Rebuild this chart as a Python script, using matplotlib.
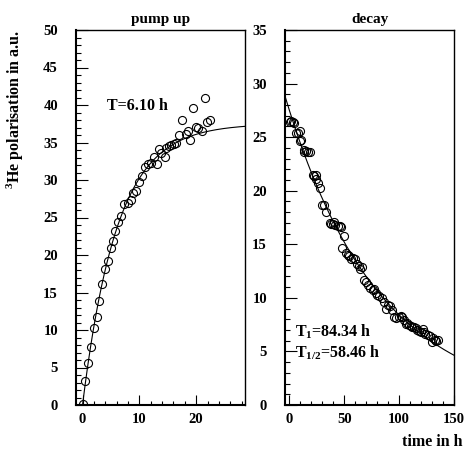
import numpy as np
import matplotlib
matplotlib.use("Agg")
import matplotlib.pyplot as plt
from matplotlib.ticker import MultipleLocator

plt.rcParams['font.family'] = ['Liberation Serif', 'DejaVu Serif']
plt.rcParams['font.weight'] = 'bold'
plt.rcParams['mathtext.fontset'] = 'custom'
plt.rcParams['mathtext.rm'] = 'Liberation Serif:bold'
plt.rcParams['mathtext.it'] = 'Liberation Serif:bold'
plt.rcParams['mathtext.bf'] = 'Liberation Serif:bold'

# pump-up measurements (time in h, polarisation in a.u.)
pump_t = [0.0, 0.45, 1.05, 1.5, 2.0, 2.5, 2.95, 3.45, 4.0, 4.45, 4.95, 5.4,
          5.75, 6.25, 6.8, 7.35, 7.95, 8.45, 8.95, 9.45, 9.95, 10.5, 11.05,
          11.55, 12.0, 12.55, 13.05, 13.5, 13.75, 14.45, 14.7, 15.2, 15.6,
          16.1, 16.5, 16.9, 17.5, 18.2, 18.5, 19.0, 19.5, 20.0, 20.4, 21.0,
          21.5, 21.9, 22.5]
pump_p = [0.2, 3.2, 5.6, 7.7, 10.3, 11.8, 13.9, 16.1, 18.1, 19.2, 21.0, 21.9,
          23.2, 24.4, 25.2, 26.8, 27.0, 27.3, 28.3, 28.6, 29.8, 30.5, 31.8,
          32.1, 32.3, 33.1, 32.1, 34.1, 33.6, 33.1, 34.3, 34.5, 34.7,
          34.8, 35.0, 36.0, 38.0, 36.2, 36.5, 35.3, 39.6, 37.1, 37.0, 36.6,
          41.0, 37.8, 38.0]

# decay measurements (time in h, polarisation in a.u.)
decay_t = [0.45, 1.4, 3.4, 4.4, 5.9, 8.0, 9.5, 10.1, 11.0, 13.1, 13.4, 15.5,
           17.0, 18.5, 21.5, 22.2, 24.0, 24.5, 26.0, 27.9, 30.0, 31.2, 33.0,
           36.6, 37.5, 39.6, 41.1, 42.0, 44.1, 45.7, 47.2, 48.1, 50.2, 51.7,
           53.0, 54.7, 56.0, 57.7, 60.1, 62.0, 63.1, 64.6, 66.0, 68.3, 70.0,
           71.3, 73.4, 75.8, 77.5, 78.8, 80.0, 81.8, 84.3, 86.3, 88.4, 90.0,
           91.5, 93.9, 95.4, 97.5, 99.9, 101.5, 102.9, 104.5, 106.0, 107.5,
           109.0, 110.5, 111.9, 113.5, 115.0, 116.5, 118.0, 120.0, 121.6,
           122.8, 124.0, 126.4, 128.0, 129.5, 131.0, 132.5, 134.0, 135.4]
decay_p = [26.45, 26.5, 26.4, 26.3, 25.4, 25.4, 25.6, 24.6, 24.7, 23.65, 23.8,
           23.75, 23.65, 23.6, 21.5, 21.4, 21.1, 21.45, 20.75, 20.3, 18.7, 18.7,
           18.05, 17.0, 16.9, 16.9, 17.1, 16.8, 16.7, 16.7, 16.6, 14.7, 15.8,
           14.2, 14.0, 13.9, 13.6, 13.75, 13.6, 13.2, 13.0, 12.7, 12.9, 11.7,
           11.5, 11.2, 10.9, 10.7, 10.8, 10.5, 10.3, 10.2, 9.96, 9.65, 9.0,
           9.3, 9.2, 8.9, 8.25, 8.1, 8.25, 8.3, 8.2, 7.9, 7.6, 7.7, 7.5, 7.4,
           7.3, 7.25, 7.15, 7.0, 6.95, 6.8, 7.05, 6.8, 6.6, 6.5, 6.4, 5.9,
           6.3, 6.1, 6.0, 6.05]

# fit parameters
pump_T = 6.10      # build-up time constant in h
pump_sat = 37.5    # saturation polarisation
decay_T1 = 84.34   # relaxation time in h
decay_P0 = 27.5    # polarisation at t = 0

pump_xlim = (-1.15, 28.6)
decay_xlim = (-4.0, 150.0)

fig = plt.figure(figsize=(4.66, 4.5), dpi=100)
W, H = 466.0, 450.0
ax1 = fig.add_axes([76 / W, 45 / H, 169 / W, 375 / H])
ax2 = fig.add_axes([285 / W, 45 / H, 169 / W, 375 / H])

marker_kw = dict(linestyle='none', marker='o', mfc='none', mec='black',
                 ms=5.8, mew=0.8)

# pump up
ax1.plot(pump_t, pump_p, **marker_kw)
tt = np.linspace(0, pump_xlim[1], 300)
ax1.plot(tt, pump_sat * (1 - np.exp(-tt / pump_T)), color='black', lw=0.8)
ax1.set_xlim(*pump_xlim)
ax1.set_ylim(0, 50)
ax1.xaxis.set_major_locator(MultipleLocator(10))
ax1.xaxis.set_minor_locator(MultipleLocator(2))
ax1.yaxis.set_major_locator(MultipleLocator(5))
ax1.yaxis.set_minor_locator(MultipleLocator(1))
ax1.text(4.25, 39.3, f'T={pump_T:.2f} h', fontsize=11.5, fontweight='bold',
         va='baseline')
ax1.set_title('pump up', fontsize=11, fontweight='bold', pad=5)

# decay
ax2.plot(decay_t, decay_p, **marker_kw)
td = np.linspace(decay_xlim[0], decay_xlim[1], 300)
ax2.plot(td, decay_P0 * np.exp(-td / decay_T1), color='black', lw=0.8)
ax2.set_xlim(*decay_xlim)
ax2.set_ylim(0, 35)
ax2.xaxis.set_major_locator(MultipleLocator(50))
ax2.xaxis.set_minor_locator(MultipleLocator(10))
ax2.yaxis.set_major_locator(MultipleLocator(5))
ax2.yaxis.set_minor_locator(MultipleLocator(1))
ax2.text(5, 6.35, rf'T$_1$={decay_T1:.2f} h', fontsize=11.5,
         fontweight='bold', va='baseline')
ax2.text(5, 4.4, rf'T$_{{1/2}}$={decay_T1 * np.log(2):.2f} h', fontsize=11.5,
         fontweight='bold', va='baseline')
ax2.set_title('decay', fontsize=11, fontweight='bold', pad=5)

for ax in (ax1, ax2):
    ax.tick_params(which='both', direction='in', top=False, right=False,
                   width=0.8, labelsize=10.5)
    ax.tick_params(axis='y', which='major', length=8.5, pad=13)
    ax.tick_params(axis='y', which='minor', length=3.5)
    ax.tick_params(axis='x', which='major', length=7, pad=6)
    ax.tick_params(axis='x', which='minor', length=3)
    for lbl in ax.get_xticklabels() + ax.get_yticklabels():
        lbl.set_fontweight('bold')
    for side in ('top', 'right'):
        ax.spines[side].set_linewidth(1.0)
    for side in ('left', 'bottom'):
        ax.spines[side].set_linewidth(1.5)

fig.text(15 / W, 1 - 30 / H, r'$^3$He polarisation in a.u.', rotation=90,
         ha='center', va='top', fontsize=11.5, fontweight='bold')
fig.text(462 / W, 4 / H, 'time in h', ha='right', va='baseline',
         fontsize=11.5, fontweight='bold')

fig.savefig('out.png', dpi=100)
